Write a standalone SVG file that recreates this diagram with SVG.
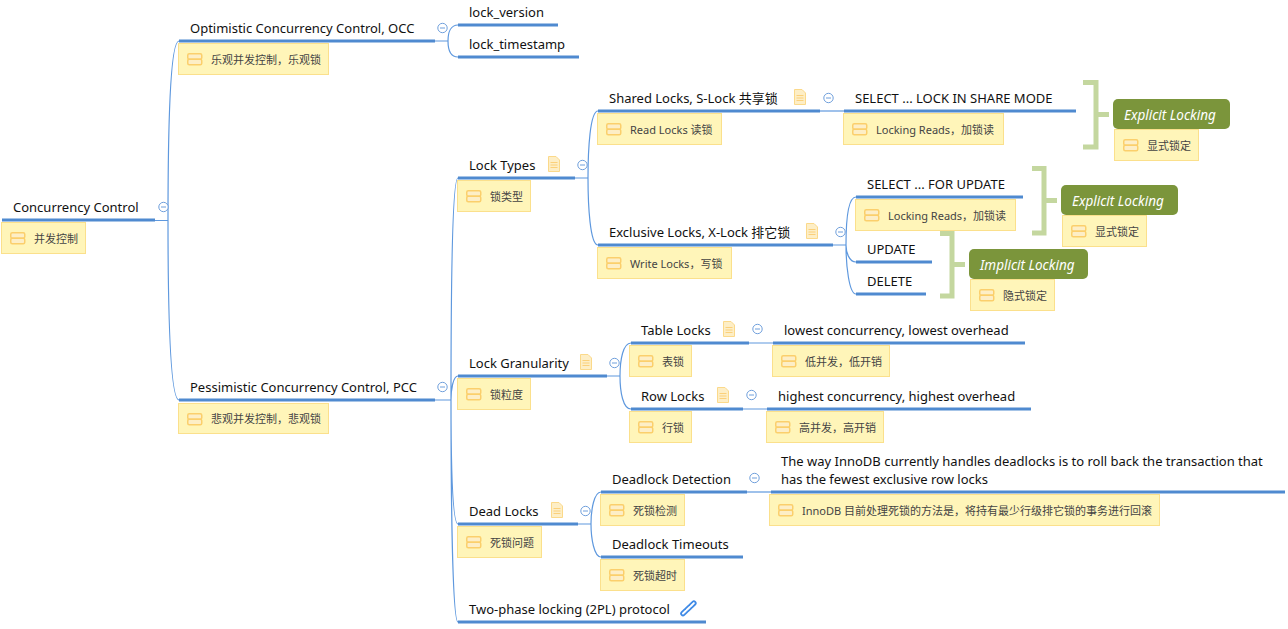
<svg xmlns="http://www.w3.org/2000/svg" xmlns:xlink="http://www.w3.org/1999/xlink" width="1288" height="629" viewBox="0 0 1288 629">
<style>
.t{font:13px "Noto Sans","Noto Sans CJK SC",sans-serif;fill:#111}
.n{font:11px "Noto Sans","Noto Sans CJK SC",sans-serif;fill:#444}
.e{font:italic 13.5px "Noto Sans",sans-serif;fill:#fff}
.u{stroke:#4f8ad0;stroke-width:3;fill:none}
.c{stroke:#5e98de;stroke-width:1.2;fill:none}
.nb{fill:#fff5b9;stroke:#fbe08c;stroke-width:1}
.b{stroke:#c4d79f;stroke-width:5;fill:none}
.g{fill:#7b953b}
</style>
<defs>
<g id="li"><rect x="0.75" y="0.75" width="14" height="5.5" rx="1.5" fill="#fdeec6" stroke="#fbcf6c" stroke-width="1.5"/><rect x="0.75" y="6.25" width="14" height="5.5" rx="1.5" fill="#fdeec6" stroke="#fbcf6c" stroke-width="1.5"/></g>
<g id="doc"><path d="M0.5 0.5H8L11.5 4V15.5H0.5Z" fill="#fdeec6" stroke="#fbd98a"/><path d="M2.5 6.5H9.5M2.5 9H9.5M2.5 11.5H9.5" stroke="#fbd07a" fill="none"/></g>
<g id="col"><circle r="4.7" fill="#fff" stroke="#6f9fdc" stroke-width="1"/><path d="M-2.5 0H2.5" stroke="#6f9fdc"/></g>
</defs>
<g id="connectors">
<path class="c" d="M155 220.500H168M168 220.500C168 130 170 41 179 41M168 220.500C168 310 170 400 179 400"/>
<path class="c" d="M435 41H448M448 41C448 32 451 25 458 25M448 41C448 50 451 57 458 57"/>
<path class="c" d="M435 400H451M451 400C451 300 452 178 458 178M451 400C451 390 453 376 458 376M451 400C451 450 452 524 458 524M451 400C451 480 452 622 458 622"/>
<path class="c" d="M575 178H588M588 178C588 150 590 111 598 111M588 178C588 205 590 245 598 245"/>
<path class="c" d="M820 111H844"/>
<path class="c" d="M833 245H846M846 245C846 220 848 197 856 197M846 245C846 252 849 262 856 262M846 245C846 265 849 294 856 294"/>
<path class="c" d="M607 376H620M620 376C620 360 623 343 631 343M620 376C620 392 623 409 631 409"/>
<path class="c" d="M749 343H773M743 409H767"/>
<path class="c" d="M578 524H591M591 524C591 510 594 492 601 492M591 524C591 538 594 557 601 557"/>
<path class="c" d="M747 492H771"/>
</g>
<g id="root"><path class="u" d="M2 220H155"/><rect class="nb" x="1.500" y="222.500" width="84" height="31"/><use href="#li" x="10" y="232"/><text class="n" x="34" y="243">并发控制</text><text class="t" x="13" y="212">Concurrency Control</text><use href="#col" x="163.500" y="207"/></g>
<g id="occ"><path class="u" d="M179 41H435"/><rect class="nb" x="178.500" y="43.500" width="150" height="31"/><use href="#li" x="187" y="53"/><text class="n" x="211" y="64">乐观并发控制，乐观锁</text><text class="t" x="190" y="33">Optimistic Concurrency Control, OCC</text><use href="#col" x="442.500" y="28"/></g>
<g id="lock-version"><path class="u" d="M458 25H558"/><text class="t" x="469" y="17">lock_version</text></g>
<g id="lock-timestamp"><path class="u" d="M458 57H579"/><text class="t" x="469" y="49">lock_timestamp</text></g>
<g id="pcc"><path class="u" d="M179 400H435"/><rect class="nb" x="178.500" y="403.500" width="150" height="30"/><use href="#li" x="187" y="413"/><text class="n" x="211" y="423">悲观并发控制，悲观锁</text><text class="t" x="190" y="392">Pessimistic Concurrency Control, PCC</text><use href="#col" x="442.500" y="387"/></g>
<g id="lock-types"><path class="u" d="M458 178H575"/><rect class="nb" x="457.500" y="180.500" width="73" height="31"/><use href="#li" x="466" y="190"/><text class="n" x="490" y="201">锁类型</text><text class="t" x="469" y="170">Lock Types</text><use href="#doc" x="548" y="156"/><use href="#col" x="582.500" y="165"/></g>
<g id="shared"><path class="u" d="M598 111H820"/><rect class="nb" x="597.500" y="113.500" width="124" height="31"/><use href="#li" x="606" y="123"/><text class="n" x="630" y="134">Read Locks 读锁</text><text class="t" x="609" y="103">Shared Locks, S-Lock 共享锁</text><use href="#doc" x="794" y="89"/><use href="#col" x="828.500" y="98"/></g>
<g id="share-mode"><path class="u" d="M844 111H1076"/><rect class="nb" x="843.500" y="113.500" width="160" height="31"/><use href="#li" x="852" y="123"/><text class="n" x="876" y="134">Locking Reads，加锁读</text><text class="t" x="855" y="103">SELECT ... LOCK IN SHARE MODE</text></g>
<g id="exclusive"><path class="u" d="M598 245H833"/><rect class="nb" x="597.500" y="247.500" width="134" height="31"/><use href="#li" x="606" y="257"/><text class="n" x="630" y="268">Write Locks，写锁</text><text class="t" x="609" y="237">Exclusive Locks, X-Lock 排它锁</text><use href="#doc" x="806" y="223"/><use href="#col" x="840.500" y="232"/></g>
<g id="for-update"><path class="u" d="M856 197H1023"/><rect class="nb" x="855.500" y="199.500" width="160" height="31"/><use href="#li" x="864" y="209"/><text class="n" x="888" y="220">Locking Reads，加锁读</text><text class="t" x="867" y="189">SELECT ... FOR UPDATE</text></g>
<g id="update"><path class="u" d="M856 262H932"/><text class="t" x="867" y="254">UPDATE</text></g>
<g id="delete"><path class="u" d="M856 294H926"/><text class="t" x="867" y="286">DELETE</text></g>
<g id="summary-1"><path class="b" d="M1083 82.500H1096V147H1083M1096 114.500H1109"/><rect class="g" x="1113" y="99" width="117" height="30" rx="5"/><text class="e" x="1124" y="120">Explicit Locking</text><rect class="nb" x="1114.500" y="129.500" width="84" height="31"/><use href="#li" x="1123" y="139"/><text class="n" x="1147" y="150">显式锁定</text></g>
<g id="summary-2"><path class="b" d="M1032 168.500H1044V233H1032M1044 200.500H1057"/><rect class="g" x="1061" y="185" width="117" height="30" rx="5"/><text class="e" x="1072" y="206">Explicit Locking</text><rect class="nb" x="1062.500" y="215.500" width="84" height="31"/><use href="#li" x="1071" y="225"/><text class="n" x="1095" y="236">显式锁定</text></g>
<g id="summary-3"><path class="b" d="M940 233.500H952V296H940M952 264.500H965"/><rect class="g" x="969" y="249" width="119" height="30" rx="5"/><text class="e" x="980" y="270">Implicit Locking</text><rect class="nb" x="970.500" y="279.500" width="84" height="31"/><use href="#li" x="979" y="289"/><text class="n" x="1003" y="300">隐式锁定</text></g>
<g id="granularity"><path class="u" d="M458 376H607"/><rect class="nb" x="457.500" y="378.500" width="73" height="31"/><use href="#li" x="466" y="388"/><text class="n" x="490" y="399">锁粒度</text><text class="t" x="469" y="368">Lock Granularity</text><use href="#doc" x="580" y="354"/><use href="#col" x="614.500" y="363"/></g>
<g id="table-locks"><path class="u" d="M631 343H749"/><rect class="nb" x="629.500" y="345.500" width="62" height="31"/><use href="#li" x="638" y="355"/><text class="n" x="662" y="366">表锁</text><text class="t" x="641" y="335">Table Locks</text><use href="#doc" x="723" y="321"/><use href="#col" x="757.500" y="329"/></g>
<g id="lowest"><path class="u" d="M773 343H1025"/><rect class="nb" x="772.500" y="345.500" width="117" height="31"/><use href="#li" x="781" y="355"/><text class="n" x="805" y="366">低并发，低开销</text><text class="t" x="784" y="335">lowest concurrency, lowest overhead</text></g>
<g id="row-locks"><path class="u" d="M631 409H743"/><rect class="nb" x="629.500" y="411.500" width="62" height="31"/><use href="#li" x="638" y="421"/><text class="n" x="662" y="432">行锁</text><text class="t" x="641" y="401">Row Locks</text><use href="#doc" x="717" y="387"/><use href="#col" x="751.500" y="395"/></g>
<g id="highest"><path class="u" d="M767 409H1031"/><rect class="nb" x="766.500" y="411.500" width="117" height="31"/><use href="#li" x="775" y="421"/><text class="n" x="799" y="432">高并发，高开销</text><text class="t" x="778" y="401">highest concurrency, highest overhead</text></g>
<g id="dead-locks"><path class="u" d="M458 524H578"/><rect class="nb" x="457.500" y="526.500" width="84" height="31"/><use href="#li" x="466" y="536"/><text class="n" x="490" y="547">死锁问题</text><text class="t" x="469" y="516">Dead Locks</text><use href="#doc" x="551" y="502"/><use href="#col" x="585.500" y="511"/></g>
<g id="detection"><path class="u" d="M601 492H747"/><rect class="nb" x="600.500" y="494.500" width="84" height="31"/><use href="#li" x="609" y="504"/><text class="n" x="633" y="515">死锁检测</text><text class="t" x="612" y="484">Deadlock Detection</text><use href="#col" x="754.500" y="478"/></g>
<g id="innodb"><path class="u" d="M771 492H1285"/><rect class="nb" x="769.500" y="494.500" width="390" height="31"/><use href="#li" x="778" y="504"/><text class="n" x="802" y="515">InnoDB 目前处理死锁的方法是，将持有最少行级排它锁的事务进行回滚</text><text class="t" x="781" y="466">The way InnoDB currently handles deadlocks is to roll back the transaction that</text><text class="t" x="781" y="484">has the fewest exclusive row locks</text></g>
<g id="timeouts"><path class="u" d="M601 557H743"/><rect class="nb" x="600.500" y="559.500" width="84" height="31"/><use href="#li" x="609" y="569"/><text class="n" x="633" y="580">死锁超时</text><text class="t" x="612" y="549">Deadlock Timeouts</text></g>
<g id="two-phase"><path class="u" d="M458 622H706"/><text class="t" x="469" y="614">Two-phase locking (2PL) protocol</text><path d="M683 613.500L694 603" stroke="#3f8ae6" stroke-width="5.500" stroke-linecap="round" stroke-dasharray="4 1.500" fill="none"/><path d="M683 613.500L694 603" stroke="#fff" stroke-width="2" stroke-linecap="round" stroke-dasharray="4 1.500" fill="none"/></g>
</svg>
